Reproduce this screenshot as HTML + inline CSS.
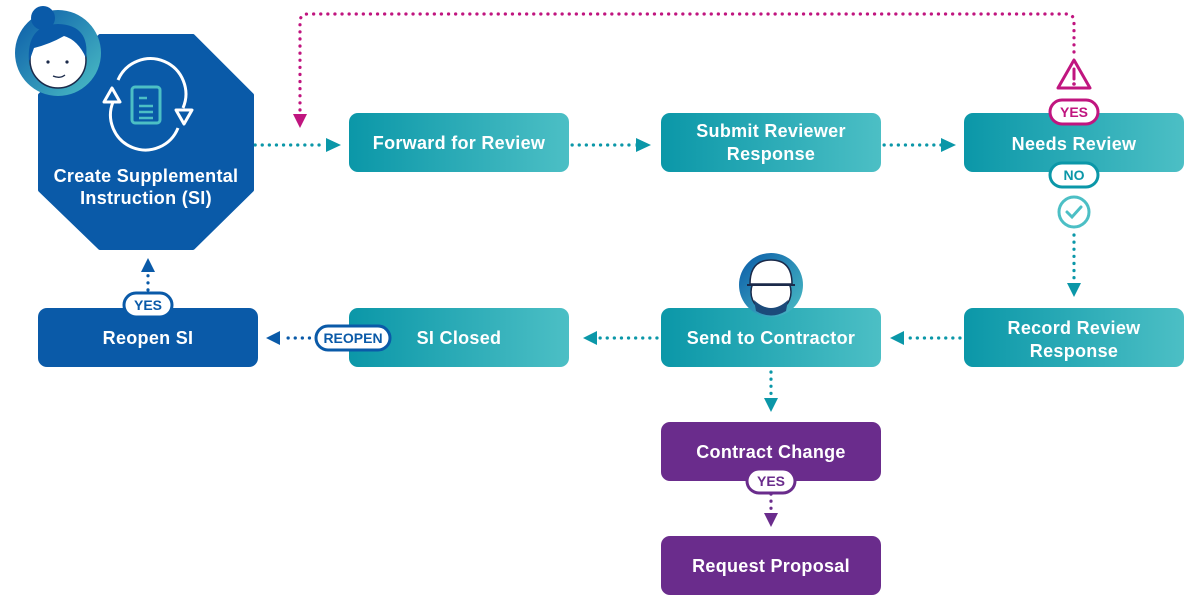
<!DOCTYPE html>
<html><head><meta charset="utf-8"><style>
html,body{margin:0;padding:0;background:#fff;width:1200px;height:600px;overflow:hidden}
svg text{font-family:"Liberation Sans",sans-serif}
</style></head><body>
<svg width="1200" height="600" viewBox="0 0 1200 600" xmlns="http://www.w3.org/2000/svg">
<defs>
<linearGradient id="tg" x1="0" x2="1" y1="0" y2="0"><stop offset="0" stop-color="#0b97a8"/><stop offset="1" stop-color="#4cbfc5"/></linearGradient>
<linearGradient id="av" x1="0" x2="1" y1="0" y2="1"><stop offset="0" stop-color="#0a5aa8"/><stop offset="1" stop-color="#4cbfc5"/></linearGradient>
</defs>
<g fill="none" stroke-linecap="round" stroke-width="3.2" stroke-dasharray="0.1 7">
<path d="M248 145 H325" stroke="#0b97a8"/>
<path d="M565 145 H636" stroke="#0b97a8"/>
<path d="M877 145 H941" stroke="#0b97a8"/>
<path d="M1074 235 V283" stroke="#0b97a8"/>
<path d="M960 338 H905" stroke="#0b97a8"/>
<path d="M657 338 H598" stroke="#0b97a8"/>
<path d="M345 338 H283" stroke="#0a5aa8"/>
<path d="M148 290 V272" stroke="#0a5aa8"/>
<path d="M771 372 V398" stroke="#0b97a8"/>
<path d="M771 494 V513" stroke="#6a2c8c"/>
<path d="M300 110 V22 Q300 14 308 14 H1066 Q1074 14 1074 22 V55" stroke="#c0157f"/>
</g>
<g>
<path d="M326 138 L341 145 L326 152Z" fill="#0b97a8"/>
<path d="M636 138 L651 145 L636 152Z" fill="#0b97a8"/>
<path d="M941 138 L956 145 L941 152Z" fill="#0b97a8"/>
<path d="M1067 283 L1081 283 L1074 297Z" fill="#0b97a8"/>
<path d="M904 331 L890 338 L904 345Z" fill="#0b97a8"/>
<path d="M597 331 L583 338 L597 345Z" fill="#0b97a8"/>
<path d="M280 331 L266 338 L280 345Z" fill="#0a5aa8"/>
<path d="M141 272 L155 272 L148 258Z" fill="#0a5aa8"/>
<path d="M764 398 L778 398 L771 412Z" fill="#0b97a8"/>
<path d="M764 513 L778 513 L771 527Z" fill="#6a2c8c"/>
<path d="M293 114 L307 114 L300 128Z" fill="#c0157f"/>
</g>
<polygon points="100,36 193,36 252,95 252,190 193,248 100,248 40,190 40,95" fill="#0a5aa8" stroke="#0a5aa8" stroke-width="4" stroke-linejoin="round"/>
<g fill="none" stroke="#fff" stroke-width="3">
<path d="M118 80 A33 33 0 0 1 183 108"/>
<path d="M178 128 A33 33 0 0 1 113 102"/>
</g>
<path d="M104 102 L112 88 L120 102Z M176 110 L184 124 L192 110Z" fill="none" stroke="#fff" stroke-width="3" stroke-linejoin="round"/>
<rect x="132" y="87" width="28" height="36" rx="3" fill="none" stroke="#4cbfc5" stroke-width="3"/>
<path d="M139 98 H147 M139 106 H153 M139 112 H153 M139 118 H153" stroke="#4cbfc5" stroke-width="2.5"/>
<g font-size="18" font-weight="bold" fill="#fff" text-anchor="middle" letter-spacing="0.3">
<text x="146" y="182">Create Supplemental</text>
<text x="146" y="204">Instruction (SI)</text>
</g>
<circle cx="58" cy="53" r="43" fill="url(#av)"/>
<circle cx="58" cy="60" r="28" fill="#fff" stroke="#1b2a4a" stroke-width="1.5"/>
<path d="M29 62 Q26 25 58 24 Q90 25 86 58 Q78 40 64 36 Q50 44 34 48 Z" fill="#0a5aa8"/>
<circle cx="43" cy="18" r="12" fill="#0a5aa8"/>
<circle cx="48" cy="62" r="1.6" fill="#1b2a4a"/><circle cx="67" cy="62" r="1.6" fill="#1b2a4a"/>
<path d="M53 76 Q60 79 65 75" fill="none" stroke="#1b2a4a" stroke-width="1.3"/>
<g font-size="18" font-weight="bold" fill="#fff" text-anchor="middle" letter-spacing="0.3">
<rect x="349" y="113" width="220" height="59" rx="9" fill="url(#tg)"/><text x="459" y="149">Forward for Review</text>
<rect x="661" y="113" width="220" height="59" rx="9" fill="url(#tg)"/><text x="771" y="137">Submit Reviewer</text><text x="771" y="160">Response</text>
<rect x="964" y="113" width="220" height="59" rx="9" fill="url(#tg)"/><text x="1074" y="150">Needs Review</text>
<rect x="38" y="308" width="220" height="59" rx="9" fill="#0a5aa8"/><text x="148" y="344">Reopen SI</text>
<rect x="349" y="308" width="220" height="59" rx="9" fill="url(#tg)"/><text x="459" y="344">SI Closed</text>
<rect x="661" y="308" width="220" height="59" rx="9" fill="url(#tg)"/><text x="771" y="344">Send to Contractor</text>
<rect x="964" y="308" width="220" height="59" rx="9" fill="url(#tg)"/><text x="1074" y="334">Record Review</text><text x="1074" y="357">Response</text>
<rect x="661" y="422" width="220" height="59" rx="9" fill="#6a2c8c"/><text x="771" y="458">Contract Change</text>
<rect x="661" y="536" width="220" height="59" rx="9" fill="#6a2c8c"/><text x="771" y="572">Request Proposal</text>
</g>
<g font-size="14" font-weight="bold" text-anchor="middle">
<rect x="1050" y="100" width="48" height="24" rx="12" fill="#fff" stroke="#c0157f" stroke-width="3"/><text x="1074" y="117" fill="#c0157f">YES</text>
<rect x="1050" y="163" width="48" height="24" rx="12" fill="#fff" stroke="#0b97a8" stroke-width="3"/><text x="1074" y="180" fill="#0b97a8">NO</text>
<rect x="124" y="293" width="48" height="24" rx="12" fill="#fff" stroke="#0a5aa8" stroke-width="3"/><text x="148" y="310" fill="#0a5aa8">YES</text>
<rect x="316" y="326" width="74" height="24" rx="12" fill="#fff" stroke="#0a5aa8" stroke-width="3"/><text x="353" y="343" fill="#0a5aa8">REOPEN</text>
<rect x="747" y="469" width="48" height="24" rx="12" fill="#fff" stroke="#6a2c8c" stroke-width="3"/><text x="771" y="486" fill="#6a2c8c">YES</text>
</g>
<path d="M1074 60 L1090 88 H1058 Z" fill="#fff" stroke="#c0157f" stroke-width="3" stroke-linejoin="round"/>
<path d="M1074 69 V79" stroke="#c0157f" stroke-width="3" stroke-linecap="round"/><circle cx="1074" cy="84" r="1.8" fill="#c0157f"/>
<circle cx="1074" cy="212" r="15" fill="#fff" stroke="#4cbfc5" stroke-width="3"/>
<path d="M1067 212 L1072 217 L1081 207" fill="none" stroke="#4cbfc5" stroke-width="3" stroke-linecap="round"/>
<circle cx="771" cy="285" r="32" fill="url(#av)"/>
<circle cx="771" cy="292" r="20" fill="#fff" stroke="#1b2a4a" stroke-width="1.5"/>
<path d="M750 284 Q750 260 771 260 Q792 260 792 284 Z" fill="#fff" stroke="#1b2a4a" stroke-width="1.5"/>
<path d="M747 285 H795" stroke="#1b2a4a" stroke-width="2"/>
<path d="M754 300 Q771 316 788 300 L786 311 Q771 320 756 311Z" fill="#1b4a7a"/>
</svg>
</body></html>
